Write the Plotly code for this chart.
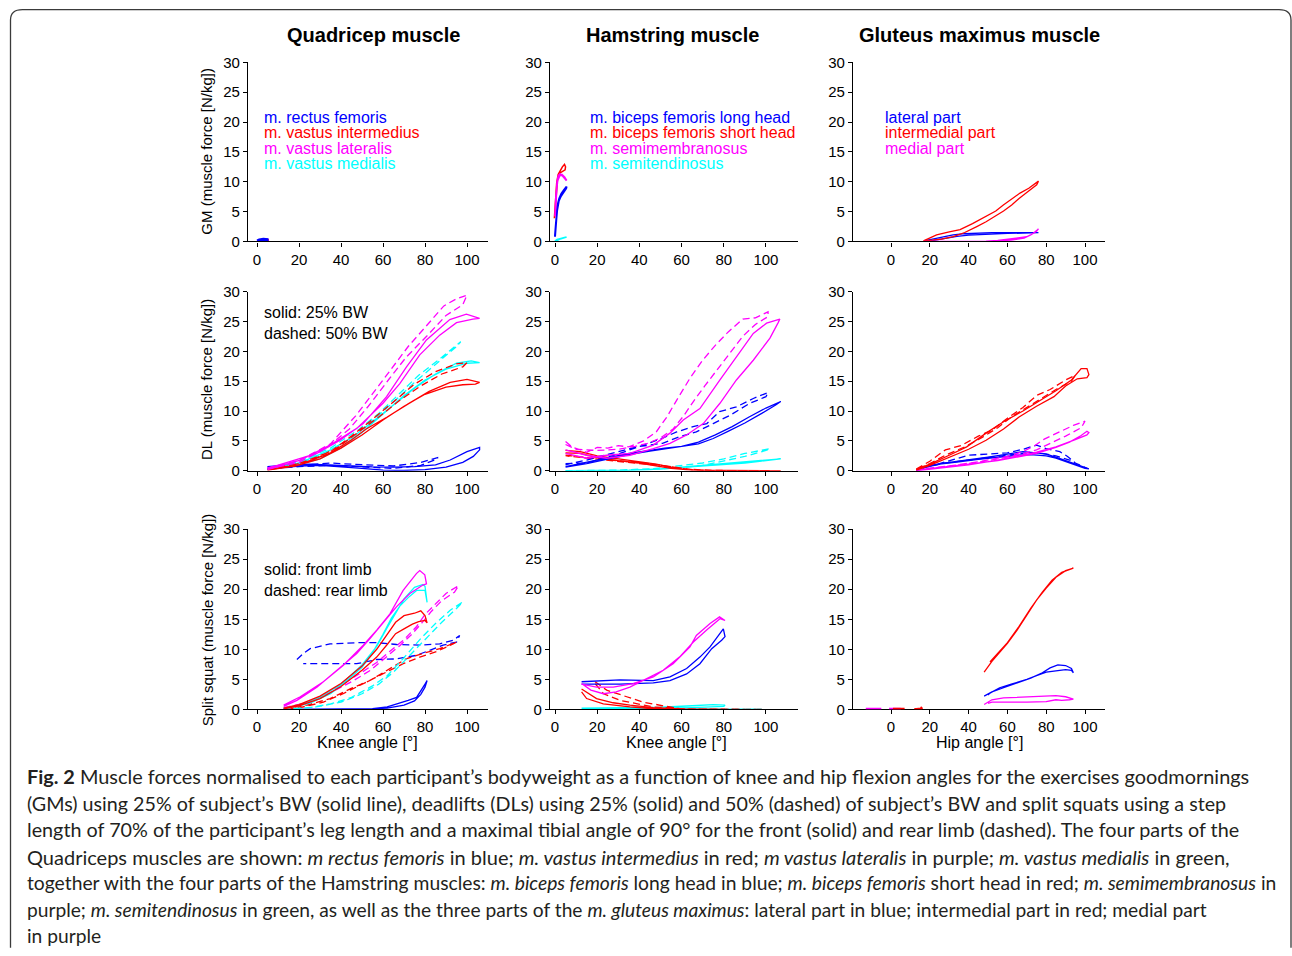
import plotly.graph_objects as go

W, H = 1292, 956
BLUE, RED, MAG, CYAN = '#0000ff', '#ff0000', '#ff00ff', '#00ffff'
FONT = 'Liberation Sans, Arial, Helvetica, sans-serif'

# ---------------- Row 1: GM ----------------
gm_q_rf_x = [0, 1, 3, 5, 5, 3, 1, 0]
gm_q_rf_y = [0.2, 0.35, 0.45, 0.4, 0.2, 0.1, 0.05, 0.0]
gm_q_vi_x = [0, 2, 5, 5, 2, 0]
gm_q_vi_y = [0.05, 0.15, 0.25, 0.15, 0.05, 0.0]
gm_q_vl_x = [0, 2, 4, 5.5, 5, 2, 0]
gm_q_vl_y = [0.1, 0.25, 0.35, 0.3, 0.15, 0.05, 0.0]
gm_q_vm_x = [0, 3, 5.5, 3, 0]
gm_q_vm_y = [0.02, 0.05, 0.08, 0.03, 0.0]

gm_h_bfl_x = [0, 0.5, 1.1, 2.0, 3.0, 4.2, 5.5, 5.3, 4.0, 2.8, 1.8, 1.0, 0.4, 0]
gm_h_bfl_y = [0.8, 3.5, 5.9, 7.2, 8.0, 8.6, 9.2, 8.9, 8.2, 7.6, 6.8, 5.2, 2.8, 1.0]
gm_h_bfs_x = [-0.3, 0.2, 0.8, 1.5, 2.5, 3.5, 4.5, 5.0, 4.8, 4.0, 3.0, 2.0, 1.2, 0.5, -0.1]
gm_h_bfs_y = [3.9, 7.0, 9.8, 11.2, 12.0, 12.5, 12.9, 12.5, 12.0, 11.8, 11.7, 11.4, 10.5, 7.5, 4.5]
gm_h_sm_x = [0, 0.4, 1.0, 1.6, 2.4, 3.5, 4.5, 5.5, 4.5, 3.3, 2.2, 1.2, 0.5, 0.1]
gm_h_sm_y = [4.2, 7.5, 10.0, 11.0, 11.3, 11.0, 10.6, 10.2, 10.8, 11.2, 11.0, 10.2, 7.8, 4.8]
gm_h_st_x = [0, 1, 2.5, 4, 5.5, 4, 2.5, 1, 0]
gm_h_st_y = [0, 0.2, 0.45, 0.6, 0.75, 0.65, 0.5, 0.3, 0.05]

gm_g_lat_x = [17, 22, 28, 32, 38, 44, 52, 60, 68, 76, 76, 68, 60, 50, 40, 34, 28.7, 22, 17]
gm_g_lat_y = [0.1, 0.4, 0.8, 1.1, 1.3, 1.4, 1.5, 1.5, 1.5, 1.5, 1.4, 1.4, 1.35, 1.25, 1.05, 0.85, 0.56, 0.2, 0.05]
gm_g_int_x = [16.7, 23.5, 30, 35.6, 42, 49.3, 54, 57.9, 62, 66.5, 71, 76, 75.1, 72, 70.8, 66, 62.2, 58, 53.6, 49, 44.2, 38, 32.1, 26, 20.1, 16.7]
gm_g_int_y = [0.1, 1.1, 1.6, 2.0, 3.0, 4.2, 5.1, 6.1, 7.0, 8.1, 8.9, 10.1, 9.5, 8.8, 8.4, 7.2, 6.1, 5.1, 4.2, 3.3, 2.5, 1.5, 0.8, 0.4, 0.2, 0.1]
gm_g_med_x = [17, 30, 40, 49, 55, 61, 66, 70, 73, 76, 75, 72, 68.6, 62, 56, 45, 30, 17]
gm_g_med_y = [0, 0, 0, 0.05, 0.2, 0.4, 0.6, 0.8, 1.3, 2.1, 1.7, 1.1, 0.56, 0.25, 0.1, 0.02, 0, 0]

# ---------------- Row 2: DL ----------------
dl_q_rf_s_x = [5, 15, 25, 35, 45, 55, 65, 75, 85, 92, 100, 106, 106, 103, 98, 90, 80, 70, 60, 50, 40, 30, 20, 10, 5]
dl_q_rf_s_y = [0.7, 1.0, 1.1, 1.0, 0.8, 0.65, 0.6, 0.7, 1.0, 1.8, 3.2, 3.9, 3.5, 2.4, 1.4, 0.6, 0.2, 0.05, 0.1, 0.4, 0.7, 0.9, 0.8, 0.5, 0.3]
dl_q_rf_d_x = [5, 20, 35, 45, 55, 65, 78, 86, 86, 78, 65, 50, 35, 20, 5]
dl_q_rf_d_y = [0.6, 1.0, 1.3, 1.1, 0.9, 0.8, 1.4, 2.2, 2.0, 0.9, 0.4, 0.6, 0.9, 0.7, 0.3]
dl_q_vi_s_x = [5, 20, 35, 45, 52, 62, 72, 82, 92, 100, 106, 104, 98, 90, 80, 70, 60, 50, 40, 30, 18, 5]
dl_q_vi_s_y = [0.2, 1.0, 3.0, 5.2, 7.0, 9.0, 11.2, 13.3, 14.8, 15.3, 14.8, 14.5, 14.4, 14.0, 12.8, 10.8, 8.5, 6.0, 3.8, 2.0, 0.8, 0.1]
dl_q_vi_d_x = [5, 20, 35, 45, 55, 65, 75, 85, 95, 100, 98, 88, 78, 68, 58, 48, 38, 25, 10, 5]
dl_q_vi_d_y = [0.3, 1.2, 3.2, 5.8, 8.6, 11.5, 14.5, 16.6, 17.9, 18.1, 17.4, 16.2, 14.2, 11.8, 9.0, 6.4, 3.8, 1.6, 0.4, 0.2]
dl_q_vl_s_x = [5, 15.8, 28.5, 39.6, 50.6, 61.7, 71.2, 80.7, 91.8, 99.7, 106, 102.8, 95, 87, 77.5, 68, 60, 47.5, 34.8, 20.6, 5]
dl_q_vl_s_y = [0.4, 1.5, 2.9, 5.1, 7.9, 12.4, 17.4, 21.9, 25.3, 26.2, 25.5, 25.4, 24.8, 22.7, 19.4, 14.6, 11.3, 7.1, 4.3, 1.8, 0.2]
dl_q_vl_d_x = [5, 20, 35, 47, 57, 64, 72, 80, 89, 95, 100, 98, 90, 81, 71, 63, 53, 44, 33, 20, 5]
dl_q_vl_d_y = [0.5, 1.7, 4.5, 9.2, 13.8, 17.0, 20.8, 24.0, 27.6, 28.8, 29.4, 27.8, 26.0, 22.6, 19.0, 15.4, 10.8, 7.0, 3.8, 1.4, 0.3]
dl_q_vm_s_x = [5, 20, 35, 45, 55, 65, 75, 85, 95, 102, 106, 100, 90, 80, 70, 60, 50, 40, 30, 18, 5]
dl_q_vm_s_y = [0.3, 1.3, 3.5, 5.5, 8.2, 11.0, 13.8, 16.2, 18.0, 18.4, 18.1, 18.0, 17.0, 15.2, 12.6, 9.5, 6.4, 3.8, 2.0, 0.9, 0.2]
dl_q_vm_d_x = [5, 20, 35, 48, 58, 67, 77, 88, 97, 95, 85, 75, 65, 55, 45, 32, 18, 5]
dl_q_vm_d_y = [0.4, 1.5, 3.8, 6.8, 9.6, 12.6, 16.0, 19.0, 21.6, 20.8, 17.8, 14.8, 11.5, 8.4, 5.5, 2.8, 1.0, 0.2]

dl_h_bfl_s_x = [5, 15, 25, 35, 45, 52, 60, 68, 76, 84, 92, 100, 107, 105, 98, 90, 82, 75, 68, 60, 52, 45, 35, 25, 15, 5]
dl_h_bfl_s_y = [0.7, 1.4, 2.1, 2.9, 3.4, 3.8, 4.1, 4.8, 6.0, 7.4, 9.0, 10.5, 11.6, 11.1, 9.6, 8.0, 6.6, 5.4, 4.5, 4.1, 3.6, 3.3, 2.7, 1.9, 1.2, 0.6]
dl_h_bfl_d_x = [5, 15, 30.8, 42, 49.8, 57.7, 65.5, 72, 78, 86, 94, 101, 100, 92.4, 83, 75, 67, 59, 51, 38.7, 28, 15, 5]
dl_h_bfl_d_y = [1.2, 1.3, 2.9, 4.3, 5.3, 6.5, 7.4, 7.9, 9.9, 10.7, 12.1, 13.1, 12.4, 11.3, 9.3, 7.9, 6.5, 5.7, 4.6, 4.0, 3.0, 1.8, 1.0]
dl_h_bfs_s_x = [5, 12, 20, 30, 40, 48, 55, 62, 70, 80, 95, 107, 107, 80, 65, 55, 48, 40, 30, 20, 12, 5]
dl_h_bfs_s_y = [3.4, 3.2, 2.5, 2.0, 1.6, 1.1, 0.6, 0.2, 0.05, 0, 0, 0, 0.02, 0.02, 0.1, 0.4, 0.8, 1.3, 1.7, 2.2, 2.9, 3.0]
dl_h_bfs_d_x = [5, 15, 25, 35, 45, 55, 65, 75, 102, 102, 75, 62, 50, 40, 30, 20, 10, 5]
dl_h_bfs_d_y = [2.6, 2.2, 1.8, 1.5, 1.2, 0.7, 0.2, 0, 0, 0.05, 0.05, 0.3, 0.9, 1.2, 1.6, 2.0, 2.4, 2.5]
dl_h_sm_s_x = [5, 15, 24.5, 35.5, 46.6, 54.5, 60.8, 68.7, 78.2, 86, 94, 100.3, 106.6, 105.8, 101.9, 94, 86, 78.2, 70.3, 62.4, 54.5, 46.6, 35.5, 24.5, 15, 5]
dl_h_sm_s_y = [2.9, 2.1, 2.6, 2.9, 4.3, 6.3, 8.5, 10.4, 15.2, 19.1, 23.0, 24.7, 25.4, 24.8, 22.2, 18.5, 15.2, 11.3, 7.9, 6.0, 4.6, 3.7, 2.6, 2.1, 2.6, 3.5]
dl_h_sm_d_x = [5, 8, 15, 20, 25, 30, 35, 42, 48, 53, 58, 64, 70, 76, 82, 89, 95, 101, 101, 95, 89, 83, 77, 71, 66, 61, 56, 50, 44, 38, 30, 20, 10, 5]
dl_h_sm_d_y = [4.9, 4.0, 3.1, 3.9, 3.8, 4.2, 4.0, 5.0, 6.5, 9.0, 12.0, 15.5, 18.5, 21.0, 23.2, 25.4, 25.6, 26.6, 25.8, 24.5, 22.5, 19.8, 17.0, 14.2, 11.8, 9.2, 7.0, 5.5, 4.6, 4.1, 3.6, 3.4, 3.6, 4.4]
dl_h_st_s_x = [5, 20, 35, 50, 60, 70, 80, 90, 100, 107, 105, 90, 75, 60, 45, 30, 5]
dl_h_st_s_y = [0, 0, 0.1, 0.3, 0.6, 0.9, 1.2, 1.5, 1.8, 2.0, 1.9, 1.3, 0.9, 0.5, 0.2, 0, 0]
dl_h_st_d_x = [5, 30, 45, 60, 70, 80, 90, 102, 100, 90, 80, 70, 55, 40, 20, 5]
dl_h_st_d_y = [0, 0.1, 0.3, 0.9, 1.3, 2.0, 2.9, 3.7, 3.4, 2.4, 1.6, 0.9, 0.4, 0.2, 0, 0]

dl_g_lat_s_x = [13, 20, 30, 40, 50, 60, 68, 75, 80, 85, 90, 95, 100, 102, 100, 95, 90, 85, 80, 72, 65, 55, 45, 35, 25, 18, 13]
dl_g_lat_s_y = [0.1, 0.9, 1.4, 1.8, 2.3, 2.8, 3.2, 3.0, 2.8, 2.3, 1.7, 1.1, 0.5, 0.3, 0.4, 1.0, 1.6, 2.1, 2.5, 2.7, 2.6, 2.3, 1.9, 1.5, 1.1, 0.6, 0.0]
dl_g_lat_d_x = [13, 25, 40, 50, 60, 68, 75, 80, 87, 91, 95, 101, 98, 92, 85, 78, 70, 60, 50, 40, 28, 18, 13]
dl_g_lat_d_y = [0.2, 1.2, 2.6, 2.8, 3.0, 3.6, 4.3, 3.7, 3.2, 2.4, 1.3, 0.4, 0.8, 1.8, 2.5, 2.9, 3.0, 2.6, 2.2, 1.8, 1.3, 0.6, 0.1]
dl_g_int_s_x = [13, 20, 30, 39, 49, 58, 68, 78, 85, 93, 98, 101, 102, 101, 96, 90, 84, 75, 66, 58, 49, 40, 30, 20, 13]
dl_g_int_s_y = [0.2, 1.1, 2.6, 4.0, 6.3, 8.2, 10.0, 12.0, 13.4, 15.2, 17.1, 17.1, 16.1, 15.6, 15.4, 14.2, 12.4, 10.8, 9.0, 7.0, 5.1, 3.6, 2.2, 0.9, 0.1]
dl_g_int_d_x = [13, 20, 28, 36, 45, 52, 60, 68, 75, 82, 90, 95, 93, 85, 77, 70, 62, 55, 47, 38, 28, 20, 13]
dl_g_int_d_y = [0.3, 1.6, 3.5, 4.2, 5.8, 6.8, 8.8, 10.6, 12.6, 13.6, 15.2, 16.0, 15.0, 13.6, 12.0, 10.6, 9.0, 7.2, 5.6, 4.0, 2.6, 1.2, 0.2]
dl_g_med_s_x = [13, 25, 40, 55, 65, 75, 85, 92, 98, 101, 102, 101, 95, 85, 75, 65, 55, 40, 25, 13]
dl_g_med_s_y = [0.1, 0.5, 1.1, 1.7, 2.3, 2.9, 3.9, 4.8, 5.9, 6.6, 6.4, 6.0, 5.2, 4.0, 3.1, 2.4, 1.8, 1.0, 0.4, 0.0]
dl_g_med_d_x = [13, 30, 45, 60, 68, 74, 79, 87, 94, 100, 98, 90, 82, 75, 65, 50, 35, 20, 13]
dl_g_med_d_y = [0.2, 0.8, 1.5, 2.4, 3.2, 4.2, 5.3, 6.5, 7.6, 8.3, 7.2, 5.8, 4.5, 3.5, 2.6, 1.7, 1.0, 0.4, 0.1]

# ---------------- Row 3: Split squat ----------------
ss_q_rf_s_x = [12.7, 30, 45, 55, 62, 68, 72, 76, 78, 80, 81, 80, 78, 75, 70, 62, 50, 12.7]
ss_q_rf_s_y = [0, 0, 0, 0.1, 0.4, 1.0, 1.5, 2.0, 3.0, 4.2, 4.8, 3.7, 2.5, 1.4, 0.7, 0.2, 0, 0]
ss_q_rf_d_x = [19, 22, 25.3, 34.8, 47.5, 57, 66.5, 77.5, 87, 93.4, 96.5, 95, 88.6, 82.3, 76, 66.5, 57, 47.5, 34.8, 27, 22]
ss_q_rf_d_y = [8.3, 9.3, 10.1, 10.9, 11.1, 11.1, 10.8, 10.7, 10.9, 11.5, 12.3, 11.2, 10.7, 9.8, 9.0, 8.4, 8.3, 7.6, 7.6, 7.5, 7.6]
ss_q_vi_s_x = [12.7, 20, 30, 40, 50, 57, 62, 66, 70, 75, 78, 80, 81, 80, 77, 74, 70, 66, 62, 57, 50, 40, 30, 20, 12.7]
ss_q_vi_s_y = [0.2, 0.8, 2.2, 4.3, 7.2, 10.0, 12.5, 14.5, 15.6, 16.0, 16.4, 15.6, 14.4, 14.8, 14.6, 14.2, 13.4, 12.6, 10.8, 8.7, 6.5, 3.8, 1.8, 0.6, 0.1]
ss_q_vi_d_x = [12.7, 23.7, 34.8, 44.3, 53.8, 63.3, 71, 79, 87, 95, 93.4, 85.4, 77.5, 69.6, 60, 50.6, 41, 31.6, 20.6, 12.7]
ss_q_vi_d_y = [0.1, 0.7, 1.8, 3.4, 4.8, 6.8, 8.4, 9.3, 10.1, 11.2, 10.9, 9.6, 8.7, 7.6, 5.9, 4.3, 2.6, 1.2, 0.3, 0.0]
ss_q_vl_s_x = [12.7, 20.6, 31.6, 41, 50.6, 57, 63.3, 69.6, 75.9, 77.5, 79.9, 80.7, 79, 72.8, 66.5, 60, 53.8, 47.5, 38, 28.5, 19, 12.7]
ss_q_vl_s_y = [0.7, 2.1, 4.6, 7.3, 10.7, 13.2, 15.9, 19.8, 22.6, 23.1, 22.4, 20.9, 20.7, 19.3, 17.1, 14.3, 11.8, 9.3, 6.5, 3.7, 1.5, 0.5]
ss_q_vl_d_x = [12.7, 25, 35, 42, 50, 57, 63, 70, 76, 80, 84, 90, 96, 94, 88, 83, 79, 74, 68, 61, 54, 46, 38, 28, 18, 12.7]
ss_q_vl_d_y = [0.3, 1.2, 2.8, 4.5, 6.2, 7.8, 9.6, 11.6, 13.8, 15.8, 17.2, 19.3, 20.6, 19.5, 18.1, 16.3, 14.6, 12.6, 10.6, 8.5, 6.5, 4.8, 3.3, 1.6, 0.6, 0.2]
ss_q_vm_s_x = [12.7, 20, 30, 40, 50, 57, 62, 66, 70, 75, 79, 80, 81, 80, 76, 72, 68, 64, 60, 55, 50, 42, 35, 25, 12.7]
ss_q_vm_s_y = [0.2, 0.7, 2.0, 4.2, 7.4, 10.5, 13.6, 16.0, 18.4, 20.3, 20.8, 20.5, 17.8, 19.8, 19.8, 18.6, 17.2, 15.2, 12.5, 9.4, 7.0, 4.5, 2.6, 1.0, 0.1]
ss_q_vm_d_x = [12.7, 25, 35, 45, 55, 62, 70, 78, 85, 92, 98, 95, 88, 80, 72, 65, 58, 50, 40, 28, 12.7]
ss_q_vm_d_y = [0, 0.3, 0.9, 2.0, 3.9, 5.6, 8.6, 11.8, 14.3, 16.5, 17.9, 16.8, 14.5, 11.6, 8.7, 6.2, 4.2, 2.6, 1.2, 0.4, 0]

ss_h_bfl_x = [12.6, 30.8, 46.6, 54.5, 62.4, 68.7, 73.5, 78.2, 79.8, 80.6, 79, 74.3, 68.7, 62.4, 54.5, 46.6, 30.8, 12.6]
ss_h_bfl_y = [4.6, 4.9, 4.8, 5.4, 6.8, 8.7, 10.4, 12.6, 13.4, 12.1, 11.5, 10.1, 7.6, 5.9, 4.8, 4.4, 4.2, 4.2]
ss_h_bfs_x = [12.6, 19.7, 27.6, 35.5, 46.6, 62.4, 80.6, 62.4, 46.6, 35.5, 22.9, 15, 12.6]
ss_h_bfs_y = [3.4, 1.8, 1.1, 0.7, 0.3, 0.05, 0, 0.02, 0.1, 0.4, 0.9, 1.8, 2.9]
ss_h_bfs_d_x = [19, 24.5, 34, 41.9, 46.6, 59, 75, 98.7, 98.7, 75, 62.4, 46.6, 30.8, 23, 19]
ss_h_bfs_d_y = [4.6, 3.2, 2.1, 1.2, 0.9, 0.1, 0, 0, 0.02, 0.02, 0.05, 0.4, 1.5, 2.6, 4.3]
ss_h_sm_x = [12.6, 17, 22.9, 29, 35.5, 43.4, 51.3, 59, 65.6, 71.9, 78.2, 80.6, 78, 73.5, 67, 64, 56, 46.6, 37, 27.6, 19.7, 12.6]
ss_h_sm_y = [4.3, 3.2, 2.6, 2.9, 3.7, 5.1, 6.5, 8.7, 11.2, 13.2, 15.1, 14.8, 15.4, 14.3, 12.3, 10.4, 7.6, 5.4, 4.3, 3.7, 3.7, 4.2]
ss_h_st_x = [12.6, 30, 50, 65, 75, 80.6, 80, 65, 45, 12.6]
ss_h_st_y = [0.2, 0.25, 0.35, 0.6, 0.8, 0.7, 0.5, 0.3, 0.15, 0.1]
ss_h_st_d_x = [19, 50, 80, 98, 98, 80, 50, 19]
ss_h_st_d_y = [0.05, 0.08, 0.1, 0.05, 0.02, 0.03, 0.03, 0.02]

ss_g_lat_x = [48, 52, 58, 65, 72, 78, 82, 86, 90, 93, 94, 93, 90, 85, 80, 75, 70, 62, 56, 51, 50]
ss_g_lat_y = [2.2, 2.9, 3.6, 4.4, 5.2, 6.1, 6.9, 7.4, 7.3, 6.8, 6.1, 6.5, 6.6, 6.4, 6.2, 5.6, 5.0, 4.2, 3.6, 2.7, 2.4]
ss_g_int_x = [48, 52, 56, 60, 65, 70, 75, 80, 85, 90, 94, 93, 88, 83, 78, 72, 66, 60, 55, 51]
ss_g_int_y = [6.2, 8.0, 9.5, 11.0, 13.2, 15.6, 18.2, 20.2, 22.0, 23.1, 23.5, 23.4, 22.8, 21.5, 19.5, 16.8, 13.8, 11.1, 9.3, 7.9]
ss_g_med_x = [48, 52, 58, 65, 75, 82, 85, 90, 94, 92, 88, 85, 80, 70, 60, 52, 50]
ss_g_med_y = [0.8, 1.6, 1.9, 2.0, 2.1, 2.2, 2.3, 2.1, 1.7, 1.6, 1.5, 1.6, 1.3, 1.2, 1.2, 1.2, 1.0]
ss_g_bits_mag_x = [-13, -5]
ss_g_bits_mag_y = [0.0, 0.0]
ss_g_bits_mag2_x = [-1, 5]
ss_g_bits_mag2_y = [0.0, 0.0]
ss_g_bits_red_x = [1, 7]
ss_g_bits_red_y = [0.0, 0.0]
ss_g_bits_red2_x = [12, 15, 16, 15.5, 13]
ss_g_bits_red2_y = [0.0, 0.0, 0.35, 0.1, 0.0]

# ---------------- labels ----------------
col_titles = ['Quadricep muscle', 'Hamstring muscle', 'Gluteus maximus muscle']
row_titles = ['GM (muscle force [N/kg])', 'DL (muscle force [N/kg])', 'Split squat (muscle force [N/kg])']
x_titles = ['Knee angle [°]', 'Knee angle [°]', 'Hip angle [°]']
quad_names = ['m. rectus femoris', 'm. vastus intermedius', 'm. vastus lateralis', 'm. vastus medialis']
ham_names = ['m. biceps femoris long head', 'm. biceps femoris short head', 'm. semimembranosus', 'm. semitendinosus']
glut_names = ['lateral part', 'intermedial part', 'medial part']
x_ticks = [0, 20, 40, 60, 80, 100]
y_ticks = [0, 5, 10, 15, 20, 25, 30]

caption_lines = [
    "<b>Fig. 2</b> Muscle forces normalised to each participant’s bodyweight as a function of knee and hip flexion angles for the exercises goodmornings",
    "(GMs) using 25% of subject’s BW (solid line), deadlifts (DLs) using 25% (solid) and 50% (dashed) of subject’s BW and split squats using a step",
    "length of 70% of the participant’s leg length and a maximal tibial angle of 90° for the front (solid) and rear limb (dashed). The four parts of the",
    "Quadriceps muscles are shown: <i>m rectus femoris</i> in blue; <i>m. vastus intermedius</i> in red; <i>m vastus lateralis</i> in purple; <i>m. vastus medialis</i> in green,",
    "together with the four parts of the Hamstring muscles: <i>m. biceps femoris</i> long head in blue; <i>m. biceps femoris</i> short head in red; <i>m. semimembranosus</i> in",
    "purple; <i>m. semitendinosus</i> in green, as well as the three parts of the <i>m. gluteus maximus</i>: lateral part in blue; intermedial part in red; medial part",
    "in purple",
]
caption_sizes = [19.9, 19.7, 19.75, 20.0, 19.3, 19.2, 19.2]

# ---------------- layout geometry (target pixels) ----------------
col_px = [(248, 488), (550, 798), (853, 1105)]
col_range = [(-4.29, 110.0), (-2.37, 115.2), (-19.6, 110.3)]
row_px = [(62.7, 241.7), (291.7, 470.7), (529, 709)]

# the viewer shows the page slightly squeezed vertically; compensate
V_OFF, V_SCALE = 9.5, 0.981


def px(x):
    return x / W


def py(y):
    yf = (y - V_OFF) / V_SCALE
    yf = min(max(yf, 0.7), H - 0.2)
    return 1 - yf / H


fig = go.Figure()


def add(k, xs, ys, color, dashed=False, width=1.3):
    xa = 'x' if k == 0 else f'x{k + 1}'
    ya = 'y' if k == 0 else f'y{k + 1}'
    fig.add_trace(go.Scatter(
        x=xs, y=ys, mode='lines', xaxis=xa, yaxis=ya, showlegend=False,
        hoverinfo='skip',
        line=dict(color=color, width=width, dash='7px,4px' if dashed else 'solid')))


# Row 1
add(0, gm_q_vm_x, gm_q_vm_y, CYAN, width=2)
add(0, gm_q_vl_x, gm_q_vl_y, MAG, width=2)
add(0, gm_q_vi_x, gm_q_vi_y, RED, width=2)
add(0, gm_q_rf_x, gm_q_rf_y, BLUE, width=2)
add(1, gm_h_st_x, gm_h_st_y, CYAN, width=1.8)
add(1, gm_h_bfl_x, gm_h_bfl_y, BLUE, width=2)
add(1, gm_h_bfs_x, gm_h_bfs_y, RED, width=1.5)
add(1, gm_h_sm_x, gm_h_sm_y, MAG, width=1.8)
add(2, gm_g_lat_x, gm_g_lat_y, BLUE)
add(2, gm_g_int_x, gm_g_int_y, RED)
add(2, gm_g_med_x, gm_g_med_y, MAG)

# Row 2
add(3, dl_q_rf_s_x, dl_q_rf_s_y, BLUE)
add(3, dl_q_rf_d_x, dl_q_rf_d_y, BLUE, True)
add(3, dl_q_vm_s_x, dl_q_vm_s_y, CYAN)
add(3, dl_q_vm_d_x, dl_q_vm_d_y, CYAN, True)
add(3, dl_q_vi_s_x, dl_q_vi_s_y, RED)
add(3, dl_q_vi_d_x, dl_q_vi_d_y, RED, True)
add(3, dl_q_vl_s_x, dl_q_vl_s_y, MAG)
add(3, dl_q_vl_d_x, dl_q_vl_d_y, MAG, True)
add(4, dl_h_st_s_x, dl_h_st_s_y, CYAN)
add(4, dl_h_st_d_x, dl_h_st_d_y, CYAN, True)
add(4, dl_h_bfs_s_x, dl_h_bfs_s_y, RED)
add(4, dl_h_bfs_d_x, dl_h_bfs_d_y, RED, True)
add(4, dl_h_bfl_s_x, dl_h_bfl_s_y, BLUE)
add(4, dl_h_bfl_d_x, dl_h_bfl_d_y, BLUE, True)
add(4, dl_h_sm_s_x, dl_h_sm_s_y, MAG)
add(4, dl_h_sm_d_x, dl_h_sm_d_y, MAG, True)
add(5, dl_g_lat_s_x, dl_g_lat_s_y, BLUE)
add(5, dl_g_lat_d_x, dl_g_lat_d_y, BLUE, True)
add(5, dl_g_med_s_x, dl_g_med_s_y, MAG)
add(5, dl_g_med_d_x, dl_g_med_d_y, MAG, True)
add(5, dl_g_int_s_x, dl_g_int_s_y, RED)
add(5, dl_g_int_d_x, dl_g_int_d_y, RED, True)

# Row 3
add(6, ss_q_rf_s_x, ss_q_rf_s_y, BLUE)
add(6, ss_q_rf_d_x, ss_q_rf_d_y, BLUE, True)
add(6, ss_q_vi_d_x, ss_q_vi_d_y, RED, True)
add(6, ss_q_vm_d_x, ss_q_vm_d_y, CYAN, True)
add(6, ss_q_vl_d_x, ss_q_vl_d_y, MAG, True)
add(6, ss_q_vm_s_x, ss_q_vm_s_y, CYAN)
add(6, ss_q_vi_s_x, ss_q_vi_s_y, RED)
add(6, ss_q_vl_s_x, ss_q_vl_s_y, MAG)
add(7, ss_h_st_d_x, ss_h_st_d_y, CYAN, True)
add(7, ss_h_st_x, ss_h_st_y, CYAN)
add(7, ss_h_bfs_d_x, ss_h_bfs_d_y, RED, True)
add(7, ss_h_bfs_x, ss_h_bfs_y, RED)
add(7, ss_h_bfl_x, ss_h_bfl_y, BLUE)
add(7, ss_h_sm_x, ss_h_sm_y, MAG)
add(8, ss_g_lat_x, ss_g_lat_y, BLUE)
add(8, ss_g_int_x, ss_g_int_y, RED)
add(8, ss_g_med_x, ss_g_med_y, MAG)
add(8, ss_g_bits_mag_x, ss_g_bits_mag_y, MAG, width=3)
add(8, ss_g_bits_mag2_x, ss_g_bits_mag2_y, MAG, width=3)
add(8, ss_g_bits_red_x, ss_g_bits_red_y, RED, width=3)
add(8, ss_g_bits_red2_x, ss_g_bits_red2_y, RED, width=2.5)

layout = dict(
    width=W, height=H, margin=dict(l=0, r=0, t=0, b=0),
    paper_bgcolor='white', plot_bgcolor='white', showlegend=False,
    font=dict(family=FONT, color='black'),
)
axis_common = dict(showline=True, linecolor='black', linewidth=1.2, ticks='outside',
                   ticklen=4, tickwidth=1, tickcolor='black', showgrid=False, zeroline=False,
                   tickfont=dict(family=FONT, size=15, color='black'), fixedrange=True)
for r in range(3):
    for c in range(3):
        k = r * 3 + c
        xn = 'xaxis' if k == 0 else f'xaxis{k + 1}'
        yn = 'yaxis' if k == 0 else f'yaxis{k + 1}'
        ya = 'y' if k == 0 else f'y{k + 1}'
        xa = 'x' if k == 0 else f'x{k + 1}'
        layout[xn] = dict(axis_common, domain=[px(col_px[c][0]), px(col_px[c][1])],
                          range=list(col_range[c]), tickvals=x_ticks, anchor=ya)
        layout[yn] = dict(axis_common, domain=[py(row_px[r][1]), py(row_px[r][0])],
                          range=[0, 30], tickvals=y_ticks, anchor=xa)
layout['xaxis9']['layer'] = 'below traces'
fig.update_layout(**layout)

ann = []


def text(x, y, s, size=16, color='black', xanchor='left', angle=0, fam=FONT):
    ann.append(dict(x=px(x), y=py(y), xref='paper', yref='paper', text=s, showarrow=False,
                    xanchor=xanchor, yanchor='middle', textangle=angle,
                    font=dict(family=fam, size=size, color=color)))


col_title_x = [373, 672, 979]
for c in range(3):
    text(col_title_x[c], 35, '<b>' + col_titles[c] + '</b>', size=20, xanchor='center')
row_title_y = [152, 380, 620]
for r in range(3):
    text(207, row_title_y[r], row_titles[r], size=15, xanchor='center', angle=-90)
x_title_x = [367, 676, 979]
for c in range(3):
    text(x_title_x[c], 742, x_titles[c], size=16, xanchor='center')

leg_colors = [BLUE, RED, MAG, CYAN]
leg_y = [118, 133, 149, 164]
for i, n in enumerate(quad_names):
    text(262, leg_y[i], n, color=leg_colors[i])
for i, n in enumerate(ham_names):
    text(588, leg_y[i], n, color=leg_colors[i])
for i, n in enumerate(glut_names):
    text(883, leg_y[i], n, color=leg_colors[i])
text(262, 313, 'solid: 25% BW')
text(262, 334, 'dashed: 50% BW')
text(262, 569, 'solid: front limb')
text(262, 590, 'dashed: rear limb')

cap_y = [776, 803, 829, 856, 882, 909, 935]
for i, line in enumerate(caption_lines):
    text(25, cap_y[i], line, size=caption_sizes[i], color='#231f20', fam='Lato, Noto Sans, sans-serif')

fig.update_layout(annotations=ann)

# rounded frame (open at the bottom edge of the page)
x0, y0, x1, y_bot, rr = 10.5, 8.5, 1291.0, 960.0, 12


def P(x, y):
    return f'{px(x):.5f},{py(y):.5f}'


path = ('M ' + P(x0, y_bot) + ' L ' + P(x0, y0 + rr) + ' Q ' + P(x0, y0) + ' ' + P(x0 + rr, y0) +
        ' L ' + P(x1 - rr, y0) + ' Q ' + P(x1, y0) + ' ' + P(x1, y0 + rr) +
        ' L ' + P(x1, y_bot))
fig.add_shape(type='path', path=path, xref='paper', yref='paper',
              line=dict(color='#3a3a3a', width=1.3), fillcolor='rgba(0,0,0,0)', layer='above')

reset_css = ("var s=document.createElement('style');"
             "s.textContent='html,body{margin:0!important;padding:0!important;overflow:hidden;}';"
             "document.head.appendChild(s);"
             "window.scrollTo(0,0);")
fig.write_html('out.html', config={'displayModeBar': False},
               post_script=reset_css)
